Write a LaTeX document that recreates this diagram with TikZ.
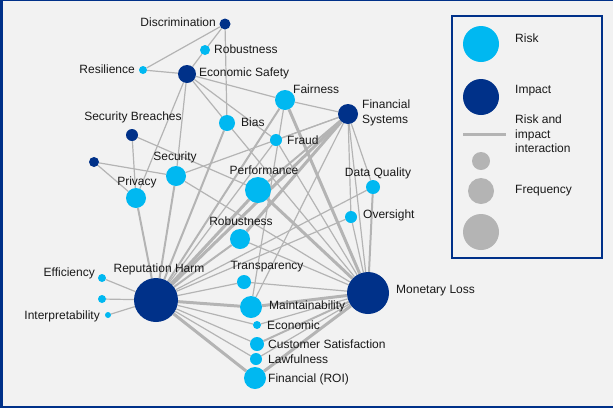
\documentclass[tikz,border=0pt]{standalone}
\usepackage{fontspec}
\setmainfont{Liberation Sans}
\usetikzlibrary{backgrounds}
\begin{document}
\definecolor{bg}{HTML}{F2F2F2}
\definecolor{darkblue}{HTML}{003189}
\definecolor{lightblue}{HTML}{00B8F1}
\definecolor{linkgray}{HTML}{B4B4B4}
\begin{tikzpicture}[x=1pt,y=-1pt,
  risk/.style={circle,fill=lightblue,inner sep=0pt,minimum size=#1},
  impact/.style={circle,fill=darkblue,inner sep=0pt,minimum size=#1},
  freq/.style={circle,fill=linkgray,inner sep=0pt,minimum size=#1},
  lbl/.style={inner sep=0pt,font=\fontsize{12}{14.5}\selectfont,text=black!90},
  edge/.style={draw=linkgray,line width=1.2pt},
  edgem/.style={draw=linkgray,line width=2pt},
  edgek/.style={draw=linkgray,line width=3pt}]
\useasboundingbox (0,0) rectangle (613,408);

% impact nodes
\node[impact=11pt] (disc) at (225,24) {};
\node[impact=18pt] (ecos) at (187,74) {};
\node[impact=20pt] (fsys) at (348,114) {};
\node[impact=12pt] (sbr) at (132,135) {};
\node[impact=10pt] (uimp) at (94,162) {};
\node[impact=44pt] (rep) at (156,300) {};
\node[impact=42pt] (mon) at (368,293) {};

% risk nodes
\node[risk=10pt] (rob1) at (205,50) {};
\node[risk=8pt] (res) at (143,70) {};
\node[risk=20pt] (fair) at (285,100) {};
\node[risk=16pt] (bias) at (227,123) {};
\node[risk=12pt] (fraud) at (276,140) {};
\node[risk=20pt] (sec) at (176,176) {};
\node[risk=20pt] (priv) at (136,198) {};
\node[risk=26pt] (perf) at (258,190) {};
\node[risk=14pt] (dq) at (373,187) {};
\node[risk=12pt] (over) at (351,217) {};
\node[risk=20pt] (rob2) at (240,239) {};
\node[risk=14pt] (trans) at (244,282) {};
\node[risk=8pt] (eff) at (102,278) {};
\node[risk=8pt] (urisk) at (102,299) {};
\node[risk=6pt] (interp) at (108,315) {};
\node[risk=22pt] (maint) at (251,307) {};
\node[risk=8pt] (econ) at (257,325) {};
\node[risk=14pt] (cust) at (257,344) {};
\node[risk=12pt] (law) at (256,359) {};
\node[risk=22pt] (roi) at (255,378) {};

\begin{scope}[on background layer]
  % page and frame
  \fill[bg] (0,0) rectangle (613,408);
  \fill[darkblue] (0,0) rectangle (3,408);
  \fill[darkblue] (0,0) rectangle (613,1.2);
  \fill[darkblue] (0,406) rectangle (613,408);
  % links, by frequency
  \foreach \a/\b in {disc/res,disc/rob1,disc/bias,
    ecos/res,ecos/rob1,ecos/fair,ecos/bias,ecos/fraud,ecos/sec,ecos/priv,
    sbr/priv,sbr/perf,uimp/sec,uimp/priv,
    fsys/fair,fsys/fraud,fsys/dq,fsys/over,fsys/sec,fsys/maint,
    mon/bias,mon/fraud,mon/sec,mon/rob2,mon/over,mon/fsys,mon/trans,mon/econ,mon/law,
    rep/fraud,rep/dq,rep/over,rep/trans,rep/econ,rep/cust,rep/law,rep/eff,rep/urisk,rep/interp,
    fair/maint}
    \draw[edge] (\a) -- (\b);
  \foreach \a/\b in {fsys/perf,mon/dq,mon/cust,rep/priv,rep/sec,rep/bias,rep/fair,rep/rob2}
    \draw[edgem] (\a) -- (\b);
  \foreach \a/\b in {fsys/rob2,fsys/rep,mon/fair,mon/perf,mon/maint,mon/roi,rep/perf,rep/maint,rep/roi}
    \draw[edgek] (\a) -- (\b);
\end{scope}

% labels
\node[lbl,anchor=east] (tdisc) at (216,22) {Discrimination};
\node[lbl,anchor=west] (trob1) at (214,49) {Robustness};
\node[lbl,anchor=east] (tres) at (135,69) {Resilience};
\node[lbl,anchor=west] (tecos) at (199,73) {Economic Safety};
\node[lbl,anchor=west] (tfair) at (293,89) {Fairness};
\node[lbl,anchor=west,align=left] (tfsys) at (362,113) {Financial\\Systems};
\node[lbl] (tsbr) at (133,117) {Security Breaches};
\node[lbl,anchor=west] (tbias) at (241,122) {Bias};
\node[lbl,anchor=west] (tfraud) at (287,140) {Fraud};
\node[lbl] (tsec) at (175,157) {Security};
\node[lbl] (tpriv) at (137,182) {Privacy};
\node[lbl] (tperf) at (264,170) {Performance};
\node[lbl] (tdq) at (378,173) {Data Quality};
\node[lbl,anchor=west] (tover) at (363,215) {Oversight};
\node[lbl] (trob2) at (241,221) {Robustness};
\node[lbl] (ttrans) at (267,267) {Transparency};
\node[lbl] (trep) at (159,269) {Reputation Harm};
\node[lbl,anchor=east] (teff) at (95,273) {Efficiency};
\node[lbl,anchor=east] (tinterp) at (100,316) {Interpretability};
\node[lbl,anchor=west] (tmaint) at (269,306) {Maintainability};
\node[lbl,anchor=west] (tecon) at (267,325) {Economic};
\node[lbl,anchor=west] (tcust) at (268,344) {Customer Satisfaction};
\node[lbl,anchor=west] (tlaw) at (268,359) {Lawfulness};
\node[lbl,anchor=west] (troi) at (268,379) {Financial (ROI)};
\node[lbl,anchor=west] (tmon) at (396,291) {Monetary Loss};

% legend
\node[draw=darkblue,line width=1.3pt,minimum width=150pt,minimum height=242pt,inner sep=0pt] (legend) at (527,137) {};
\node[risk=36pt] (lgrisk) at (481,44) {};
\node[impact=36pt] (lgimpact) at (481,97) {};
\coordinate (lgl1) at (463,134);
\coordinate (lgl2) at (506,134);
\draw[linkgray,line width=3pt] (lgl1) -- (lgl2);
\node[freq=18pt] (lgf1) at (481,161) {};
\node[freq=26pt] (lgf2) at (481,191) {};
\node[freq=36pt] (lgf3) at (481,232) {};
\node[lbl,anchor=west] (tlgrisk) at (515,38) {Risk};
\node[lbl,anchor=west] (tlgimpact) at (515,91) {Impact};
\node[lbl,anchor=west,align=left] (tlgline) at (515,134) {Risk and\\impact\\interaction};
\node[lbl,anchor=west] (tlgfreq) at (515,191) {Frequency};
\end{tikzpicture}
\end{document}
